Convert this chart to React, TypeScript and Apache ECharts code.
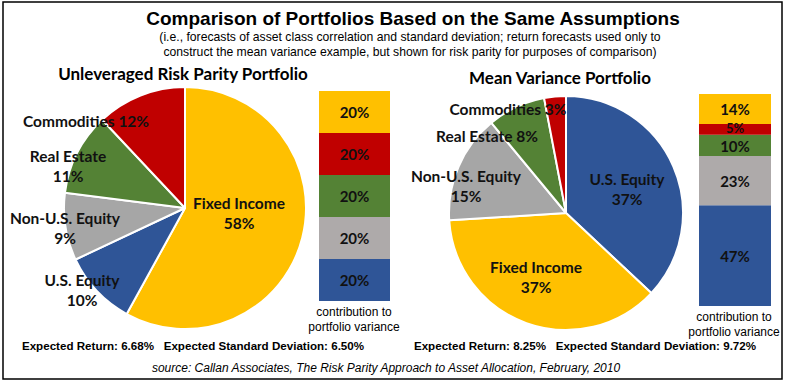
import React, { useEffect, useRef } from "react";
import * as echarts from "echarts";

const categories = ["U.S. Equity", "Non-U.S. Equity", "Real Estate", "Commodities", "Fixed Income"];
const colors: Record<string, string> = {
  "U.S. Equity": "#2F5597",
  "Non-U.S. Equity": "#A6A6A6",
  "Real Estate": "#548235",
  "Commodities": "#C00000",
  "Fixed Income": "#FFC000",
};
const barColors: Record<string, string> = {
  "U.S. Equity": "#2F5597",
  "Non-U.S. Equity": "#AEAAAA",
  "Real Estate": "#548235",
  "Commodities": "#C00000",
  "Fixed Income": "#FFC000",
};

// Pie order (clockwise from 12 o'clock)
const rpPieOrder = ["Fixed Income", "U.S. Equity", "Non-U.S. Equity", "Real Estate", "Commodities"];
const rpPieValues = [58, 10, 9, 11, 12];
const mvPieOrder = ["U.S. Equity", "Fixed Income", "Non-U.S. Equity", "Real Estate", "Commodities"];
const mvPieValues = [37, 37, 15, 8, 3];

// Contribution to portfolio variance (bottom to top: categories order)
const rpContribution = [20, 20, 20, 20, 20];
const mvContribution = [47, 23, 10, 5, 14];

const mainTitle = "Comparison of Portfolios Based on the Same Assumptions";
const subTitle =
  "(i.e., forecasts of asset class correlation and standard deviation; return forecasts used only to\nconstruct the mean variance example, but shown for risk parity for purposes of comparison)";
const rpTitle = "Unleveraged Risk Parity Portfolio";
const mvTitle = "Mean Variance Portfolio";
const rpStats = "Expected Return: 6.68%   Expected Standard Deviation: 6.50%";
const mvStats = "Expected Return: 8.25%   Expected Standard Deviation: 9.72%";
const barCaption = "contribution to\nportfolio variance";
const sourceText = "source: Callan Associates, The Risk Parity Approach to Asset Allocation, February, 2010";

// label text formats per slice
const rpLabelFmt: Record<string, string> = {
  "Fixed Income": "{b}\n{d}",
  "U.S. Equity": "{b}\n{d}",
  "Non-U.S. Equity": "{b}\n{d}",
  "Real Estate": "{b}\n{d}",
  "Commodities": "{b} {d}",
};
const mvLabelFmt: Record<string, string> = {
  "Fixed Income": "{b}\n{d}",
  "U.S. Equity": "{b}\n{d}",
  "Non-U.S. Equity": "{b}\n{d}",
  "Real Estate": "{b} {d}",
  "Commodities": "{b} {d}",
};
// label anchor points
const rpLabelPos: Record<string, [number, number]> = {
  "Fixed Income": [239, 213],
  "U.S. Equity": [82, 290],
  "Non-U.S. Equity": [65, 228],
  "Real Estate": [68, 166],
  "Commodities": [86, 121],
};
const mvLabelPos: Record<string, [number, number]> = {
  "U.S. Equity": [627, 189],
  "Fixed Income": [536, 277],
  "Non-U.S. Equity": [466, 186],
  "Real Estate": [487, 136],
  "Commodities": [508, 109],
};

const labelFont = "Lato, 'Noto Sans', sans-serif";
const arial = "'Liberation Sans', Arial, sans-serif";

function pieSeries(order: string[], values: number[], center: [number, number], radius: number, fmt: Record<string, string>, pos: Record<string, [number, number]>) {
  return {
    type: "pie",
    center,
    radius,
    startAngle: 90,
    clockwise: true,
    avoidLabelOverlap: false,
    data: order.map((n, i) => ({
      name: n,
      value: values[i],
      itemStyle: { color: colors[n] },
      label: {
        formatter: (p: any) => fmt[n].replace("{b}", p.name).replace("{d}", Math.round(p.percent) + "%"),
      },
    })),
    itemStyle: { borderColor: "#ffffff", borderWidth: 2 },
    label: {
      show: true,
      position: "inside",
      color: "#111111",
      fontFamily: labelFont,
      fontWeight: "bold",
      fontSize: 15.5,
      lineHeight: 20,
      align: "center",
    },
    labelLine: { show: false },
    labelLayout: (p: any) => {
      const n = order[p.dataIndex];
      const [x, y] = pos[n];
      return { x, y, align: "center", verticalAlign: "middle" };
    },
  };
}

function barSeries(values: number[], gridIdx: number) {
  return categories.map((n, i) => {
    const small = gridIdx === 1 && n === "Commodities";
    const shiftDown = gridIdx === 1 && n === "Real Estate";
    return {
      type: "bar",
      name: n,
      stack: "s" + gridIdx,
      xAxisIndex: gridIdx,
      yAxisIndex: gridIdx,
      barWidth: "100%",
      data: [values[i]],
      itemStyle: { color: barColors[n] },
      label: {
        show: true,
        position: "inside",
        formatter: (p: any) => p.value + "%",
        color: "#111111",
        fontFamily: labelFont,
        fontWeight: "bold",
        fontSize: small ? 13 : 15,
        offset: small ? [0, -1] : shiftDown ? [0, 1] : [0, 0],
      },
    };
  });
}

const sum = (a: number[]) => a.reduce((s, v) => s + v, 0);

export default function App() {
  const ref = useRef<HTMLDivElement>(null);
  useEffect(() => {
    if (!ref.current) return;
    const chart = echarts.init(ref.current, undefined, { renderer: "svg" });
    const t = (text: string, left: number | string, top: number, style: any, textAlign = "center") => ({
      text,
      left,
      top,
      textAlign,
      padding: 0,
      textStyle: { fontFamily: arial, color: "#000", fontWeight: "normal", ...style },
    });
    chart.setOption({
      animation: false,
      backgroundColor: "#ffffff",
      title: [
        t(mainTitle, 413, 7, { fontSize: 19, fontWeight: "bold", lineHeight: 22 }),
        t(subTitle, 410, 29, { fontSize: 12.2, lineHeight: 15 }),
        t(rpTitle, 183, 65, { fontSize: 17, fontWeight: "bold", fontFamily: labelFont }),
        t(mvTitle, 560, 69, { fontSize: 17, fontWeight: "bold", fontFamily: labelFont }),
        t(barCaption, 354, 304, { fontSize: 12, lineHeight: 15 }),
        t(barCaption, 734, 309, { fontSize: 12, lineHeight: 15 }),
        t(rpStats, 193, 339, { fontSize: 11.6, fontWeight: "bold" }),
        t(mvStats, 585, 339, { fontSize: 11.6, fontWeight: "bold" }),
        t(sourceText, 386, 362, { fontSize: 12, fontStyle: "italic" }),
      ],
      grid: [
        { left: 319, top: 91, width: 71, height: 210 },
        { left: 699, top: 94, width: 72, height: 212 },
      ],
      xAxis: [0, 1].map((i) => ({ type: "category", gridIndex: i, data: [""], show: false })),
      yAxis: [
        { type: "value", gridIndex: 0, min: 0, max: sum(rpContribution), show: false },
        { type: "value", gridIndex: 1, min: 0, max: sum(mvContribution), show: false },
      ],
      graphic: [
        {
          type: "rect",
          shape: { x: 3, y: 2, width: 779, height: 377 },
          style: { fill: "none", stroke: "#000", lineWidth: 1.5 },
          z: 100,
          silent: true,
        },
      ],
      series: [
        pieSeries(rpPieOrder, rpPieValues, [185, 208], 121, rpLabelFmt, rpLabelPos),
        pieSeries(mvPieOrder, mvPieValues, [566, 213], 117, mvLabelFmt, mvLabelPos),
        ...barSeries(rpContribution, 0),
        ...barSeries(mvContribution, 1),
      ],
    });
    return () => chart.dispose();
  }, []);
  return <div ref={ref} style={{ width: 786, height: 383, position: "absolute", left: 0, top: 0 }} />;
}
